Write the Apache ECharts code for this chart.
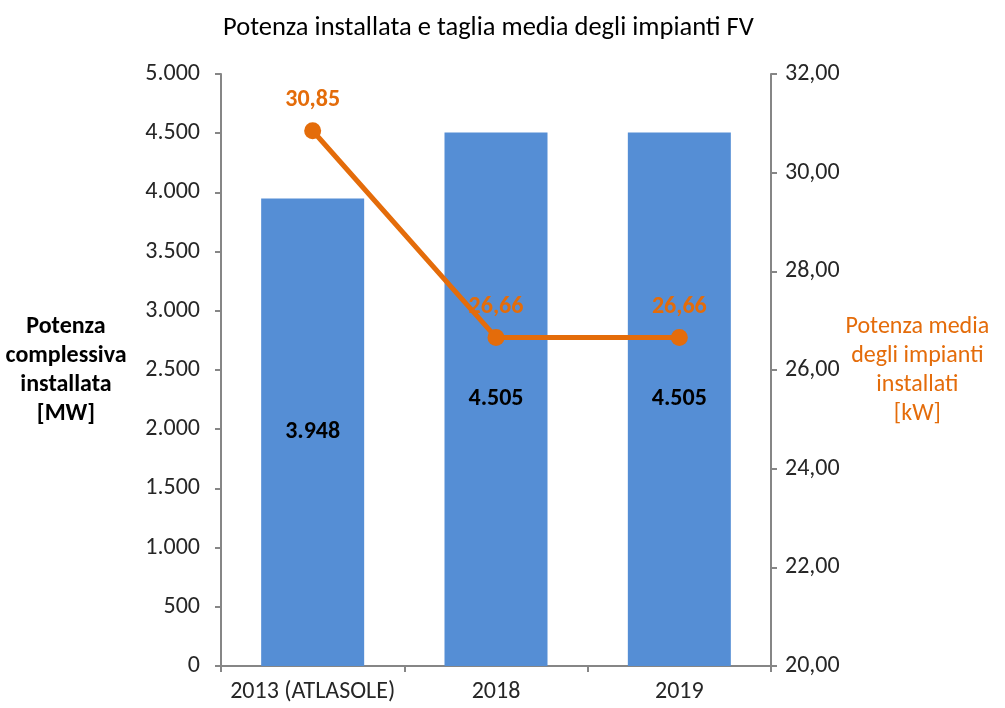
<!DOCTYPE html>
<html><head><meta charset="utf-8">
<script src="https://cdn.jsdelivr.net/npm/echarts@6/dist/echarts.min.js"></script>
<style>html,body{margin:0;padding:0;background:#fff}#c{width:1005px;height:708px}</style>
</head><body><div id="c"></div>
<script>
const categories = ['2013 (ATLASOLE)', '2018', '2019'];
const potenzaMW = [3948, 4505, 4505];
const tagliaMediaKW = [30.85, 26.66, 26.66];
const leftTicks = {min: 0, max: 5000, interval: 500};
const rightTicks = {min: 20, max: 32, interval: 2};

const FONT = 'Carlito, Lato';
const FS = 24;
const fmtThousands = v => String(Math.round(v)).replace(/\B(?=(\d{3})+(?!\d))/g, '.');
const fmtDec = v => v.toFixed(2).replace('.', ',');
const ORANGE = '#E46C0A';
const AXIS = '#868686';
const TXT = '#262626';

const chart = echarts.init(document.getElementById('c'), null, {renderer: 'canvas'});
chart.setOption({
  animation: false,
  textStyle: {fontFamily: FONT},
  title: {
    text: 'Potenza installata e taglia media degli impianti FV',
    left: 218, top: 10,
    textStyle: {fontFamily: FONT, fontSize: 26.5, fontWeight: 'normal', color: '#000'}
  },
  grid: {left: 221, right: 234, top: 74, bottom: 42},
  xAxis: {
    type: 'category', data: categories,
    axisLine: {lineStyle: {color: AXIS, width: 2}},
    axisTick: {show: true, length: 6, lineStyle: {color: AXIS, width: 2}},
    axisLabel: {color: TXT, fontSize: FS, fontFamily: FONT, margin: 14, interval: 0}
  },
  yAxis: [{
    type: 'value', min: leftTicks.min, max: leftTicks.max, interval: leftTicks.interval,
    splitLine: {show: false},
    axisLine: {show: true, lineStyle: {color: AXIS, width: 2}},
    axisTick: {show: true, length: 6, lineStyle: {color: AXIS, width: 2}},
    axisLabel: {color: TXT, fontSize: FS, fontFamily: FONT, margin: 21, formatter: fmtThousands},
    name: 'Potenza\ncomplessiva\ninstallata\n[MW]',
    nameLocation: 'middle', nameRotate: 0, nameGap: 155,
    nameTextStyle: {fontFamily: FONT, fontSize: FS, fontWeight: 'bold', color: '#000', lineHeight: 29, align: 'center', verticalAlign: 'middle'}
  }, {
    type: 'value', position: 'right', min: rightTicks.min, max: rightTicks.max, interval: rightTicks.interval,
    splitLine: {show: false},
    axisLine: {show: true, lineStyle: {color: AXIS, width: 2}},
    axisTick: {show: true, length: 6, lineStyle: {color: AXIS, width: 2}},
    axisLabel: {color: TXT, fontSize: FS, fontFamily: FONT, margin: 14, formatter: fmtDec},
    name: 'Potenza media\ndegli impianti\ninstallati\n[kW]',
    nameLocation: 'middle', nameRotate: 0, nameGap: 144,
    nameTextStyle: {fontFamily: FONT, fontSize: FS, color: ORANGE, lineHeight: 29, align: 'center', verticalAlign: 'middle'}
  }],
  series: [{
    type: 'bar', data: potenzaMW, yAxisIndex: 0,
    barWidth: 103,
    itemStyle: {color: '#558ED5'},
    label: {show: true, position: 'inside', formatter: p => fmtThousands(p.value),
      color: '#000', fontWeight: 'bold', fontSize: FS, fontFamily: FONT}
  }, {
    type: 'line', yAxisIndex: 1, data: tagliaMediaKW,
    symbol: 'circle', symbolSize: 17,
    lineStyle: {color: ORANGE, width: 5},
    itemStyle: {color: ORANGE},
    label: {show: true, position: 'top', distance: 10, formatter: p => fmtDec(p.value),
      color: ORANGE, fontWeight: 'bold', fontSize: FS, fontFamily: FONT}
  }]
});
</script></body></html>
